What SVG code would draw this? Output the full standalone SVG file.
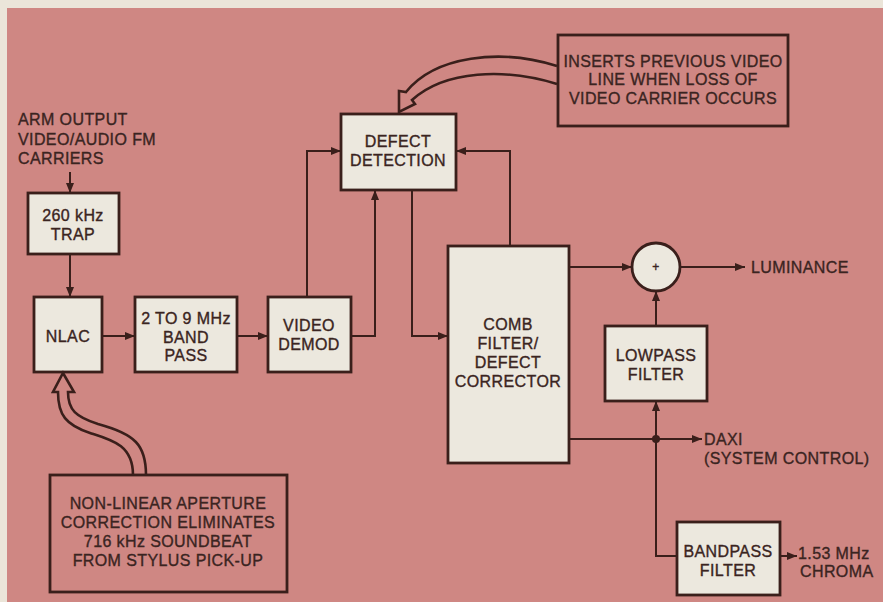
<svg xmlns="http://www.w3.org/2000/svg" width="883" height="602" viewBox="0 0 883 602">
<defs>
<marker id="ah" viewBox="0 0 10 8" refX="10" refY="4" markerWidth="10" markerHeight="8" markerUnits="userSpaceOnUse" orient="auto">
<path d="M0,0 L10,4 L0,8 Z" fill="#3a1f1b"/>
</marker>
<style>
.box{fill:#ece8de;stroke:#3a1f1b;stroke-width:2.8}
.note{fill:none;stroke:#3a1f1b;stroke-width:2.8}
.ln{fill:none;stroke:#3a1f1b;stroke-width:2}
.t{font-family:"Liberation Sans",Arial,sans-serif;font-size:16px;fill:#3a2421;stroke:#3a2421;stroke-width:0.35px;text-anchor:middle;letter-spacing:0.4px}
.s{text-anchor:start}
.hollow{fill:none;stroke:#3a1f1b;stroke-width:2.6;stroke-linejoin:miter}
</style>
</defs>
<rect x="0" y="0" width="883" height="602" fill="#ebe5d9"/>
<rect x="7" y="8" width="876" height="594" fill="#cf8783"/>

<g id="input-label">
<text class="t s" x="18" y="125">ARM OUTPUT</text>
<text class="t s" x="18" y="145">VIDEO/AUDIO FM</text>
<text class="t s" x="18" y="164">CARRIERS</text>
</g>

<g id="trap">
<rect class="box" x="28" y="193" width="91" height="61"/>
<text class="t" x="73" y="221">260 kHz</text>
<text class="t" x="73" y="240">TRAP</text>
</g>

<g id="nlac">
<rect class="box" x="34" y="297" width="68" height="75"/>
<text class="t" x="68" y="342">NLAC</text>
</g>

<g id="bandpass29">
<rect class="box" x="135" y="297" width="102" height="75"/>
<text class="t" x="186" y="324">2 TO 9 MHz</text>
<text class="t" x="186" y="343">BAND</text>
<text class="t" x="186" y="361">PASS</text>
</g>

<g id="demod">
<rect class="box" x="268" y="297" width="83" height="75"/>
<text class="t" x="309" y="331">VIDEO</text>
<text class="t" x="309" y="350">DEMOD</text>
</g>

<g id="defect-detection">
<rect class="box" x="341" y="114" width="115" height="76"/>
<text class="t" x="398" y="147">DEFECT</text>
<text class="t" x="398" y="166">DETECTION</text>
</g>

<g id="comb">
<rect class="box" x="448" y="246" width="121" height="217"/>
<text class="t" x="508" y="330">COMB</text>
<text class="t" x="508" y="349">FILTER/</text>
<text class="t" x="508" y="368">DEFECT</text>
<text class="t" x="508" y="387">CORRECTOR</text>
</g>

<g id="sum">
<circle cx="656" cy="267" r="24" fill="#ece8de" stroke="#3a1f1b" stroke-width="2.8"/>
<text class="t" x="656" y="271" style="font-size:12px">+</text>
</g>

<g id="lowpass">
<rect class="box" x="605" y="326" width="102" height="75"/>
<text class="t" x="656" y="361">LOWPASS</text>
<text class="t" x="656" y="380">FILTER</text>
</g>

<g id="bandpass">
<rect class="box" x="677" y="522" width="103" height="73"/>
<text class="t" x="728" y="557">BANDPASS</text>
<text class="t" x="728" y="576">FILTER</text>
</g>

<g id="luminance-label">
<text class="t s" x="751" y="273">LUMINANCE</text>
</g>
<g id="daxi-label">
<text class="t s" x="704" y="445">DAXI</text>
<text class="t s" x="704" y="464">(SYSTEM CONTROL)</text>
</g>
<g id="chroma-label">
<text class="t s" x="798" y="559">1.53 MHz</text>
<text class="t s" x="800" y="577">CHROMA</text>
</g>

<g id="note-insert">
<rect class="note" x="558" y="35" width="230" height="91"/>
<text class="t" x="673" y="67">INSERTS PREVIOUS VIDEO</text>
<text class="t" x="673" y="85">LINE WHEN LOSS OF</text>
<text class="t" x="673" y="104">VIDEO CARRIER OCCURS</text>
</g>

<g id="note-nlac">
<rect class="note" x="50" y="475" width="237" height="117"/>
<text class="t" x="168" y="509">NON-LINEAR APERTURE</text>
<text class="t" x="168" y="528">CORRECTION ELIMINATES</text>
<text class="t" x="168" y="547">716 kHz SOUNDBEAT</text>
<text class="t" x="168" y="566">FROM STYLUS PICK-UP</text>
</g>

<g id="connectors">
<path class="ln" d="M70,172 L70,193" marker-end="url(#ah)"/>
<path class="ln" d="M70,254 L70,297" marker-end="url(#ah)"/>
<path class="ln" d="M102,336 L135,336" marker-end="url(#ah)"/>
<path class="ln" d="M237,336 L268,336" marker-end="url(#ah)"/>
<path class="ln" d="M307,297 L307,151 L341,151" marker-end="url(#ah)"/>
<path class="ln" d="M351,336 L375,336 L375,190" marker-end="url(#ah)"/>
<path class="ln" d="M412,190 L412,336 L448,336" marker-end="url(#ah)"/>
<path class="ln" d="M510,246 L510,151 L456,151" marker-end="url(#ah)"/>
<path class="ln" d="M569,267 L632,267" marker-end="url(#ah)"/>
<path class="ln" d="M680,267 L745,267" marker-end="url(#ah)"/>
<path class="ln" d="M656,326 L656,291" marker-end="url(#ah)"/>
<path class="ln" d="M569,439 L702,439" marker-end="url(#ah)"/>
<circle cx="656" cy="439" r="4" fill="#3a1f1b"/>
<path class="ln" d="M677,556 L656,556 L656,401" marker-end="url(#ah)"/>
<path class="ln" d="M780,556 L797,556" marker-end="url(#ah)"/>
<path class="hollow" d="M557,66 C500,48 435,56 406,92 L399,91 L399,112 L415,104 L412,100 C445,70 505,68 557,84"/>
<path class="hollow" d="M133,475 C133,445 112,440 90,433 C66,425 58,415 58,392 L53,392 L63,373 L74,392 L68,392 C68,410 76,417 98,424 C135,434 146,445 146,475"/>
</g>
</svg>
